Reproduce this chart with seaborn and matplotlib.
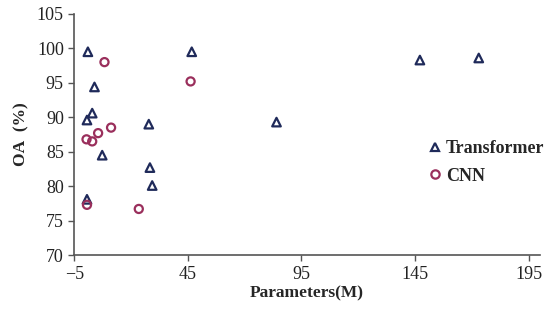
import matplotlib
matplotlib.use("Agg")
import matplotlib.pyplot as plt
import seaborn as sns
import pandas as pd
from matplotlib.lines import Line2D

trans_params = [1.0, 3.9, 2.9, 0.6, 7.3, 0.6, 27.8, 28.3, 29.3, 46.7, 84.0, 147.1, 173.0]
trans_oa = [99.5, 94.4, 90.6, 89.6, 84.5, 78.1, 89.0, 82.7, 80.1, 99.5, 89.3, 98.3, 98.6]
cnn_params = [8.3, 46.2, 11.2, 5.5, 0.4, 2.9, 0.6, 23.4]
cnn_oa = [98.0, 95.2, 88.5, 87.7, 86.8, 86.5, 77.3, 76.7]
x_ticks = [-5, 45, 95, 145, 195]
y_ticks = [70, 75, 80, 85, 90, 95, 100, 105]

sns.set_style("white")
plt.rcParams['font.family'] = ['Liberation Serif', 'DejaVu Serif']

navy = "#1f2a5a"
maroon = "#9a2f5c"

fig = plt.figure(figsize=(5.5, 3.15), dpi=100)
ax = fig.add_axes([0.135, 0.19, 0.847, 0.766])

df_t = pd.DataFrame({"p": trans_params, "oa": trans_oa})
df_c = pd.DataFrame({"p": cnn_params, "oa": cnn_oa})
sns.scatterplot(data=df_t, x="p", y="oa", ax=ax, marker="^", s=38,
                facecolors="none", edgecolor=navy, linewidth=1.6, zorder=3)
sns.scatterplot(data=df_c, x="p", y="oa", ax=ax, marker="o", s=34,
                facecolors="none", edgecolor=maroon, linewidth=1.6, zorder=3)

ax.set_xlim(-5, 200)
ax.set_ylim(70, 105)
ax.set_xticks(x_ticks)
ax.set_xticklabels(["\u22125", "45", "95", "145", "195"])
ax.set_yticks(y_ticks)
for s in ["top", "right"]:
    ax.spines[s].set_visible(False)
for s in ["left", "bottom"]:
    ax.spines[s].set_color("#555555")
    ax.spines[s].set_linewidth(1.2)
ax.tick_params(axis="both", direction="out", length=4, width=1, color="#555555",
               labelsize=13, labelcolor="#222222", bottom=True, left=True)
ax.set_xlabel("Parameters(M)", fontsize=12.5, fontweight="bold", labelpad=2)
ax.set_ylabel("OA\u2002(%)", fontsize=12.5, fontweight="bold", labelpad=5)

handles = [
    Line2D([], [], marker="^", linestyle="none", markerfacecolor="none",
           markeredgecolor=navy, markeredgewidth=1.6, markersize=6),
    Line2D([], [], marker="o", linestyle="none", markerfacecolor="none",
           markeredgecolor=maroon, markeredgewidth=1.6, markersize=6),
]
ax.legend(handles, ["Transformer", "CNN"], loc="center left", bbox_to_anchor=(0.72, 0.385),
          frameon=False, prop={"weight": "bold", "size": 13}, handletextpad=0.1,
          handlelength=1.0, labelspacing=0.6)

fig.savefig("out.png", dpi=100)
